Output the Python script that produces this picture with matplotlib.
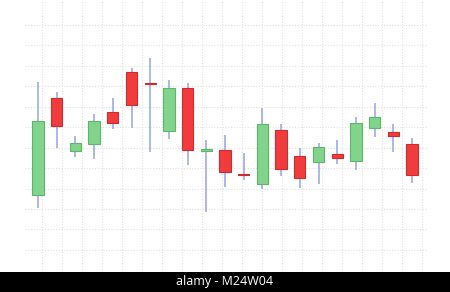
import numpy as np
import matplotlib
matplotlib.use('Agg')
import matplotlib.pyplot as plt
from matplotlib.patches import Rectangle

# OHLC values (21 candles)
opens  = [63.4, 87.2, 74.2, 75.9, 83.7, 93.5, 90.7, 79.1, 89.6, 74.3, 74.5,
          68.5, 66.1, 79.3, 73.0, 71.5, 73.5, 71.8, 79.8, 78.9, 75.9]
highs  = [91.1, 88.6, 77.9, 83.3, 87.2, 94.5, 96.9, 91.6, 90.8, 76.9, 78.1,
          73.7, 84.7, 80.8, 74.9, 76.2, 76.9, 82.5, 85.9, 80.8, 77.4]
lows   = [60.3, 74.9, 72.7, 72.2, 79.6, 79.8, 74.0, 77.1, 70.8, 59.3, 65.4,
          67.1, 64.9, 68.1, 65.2, 66.1, 71.0, 69.6, 77.6, 74.0, 66.4]
closes = [81.5, 80.3, 76.2, 81.5, 81.1, 85.5, 90.5, 89.6, 74.5, 74.6, 69.1,
          68.2, 80.8, 69.8, 67.6, 75.2, 72.5, 81.1, 82.5, 77.9, 68.3]
grid_levels = [50, 55, 60, 65, 70, 75, 80, 85, 90, 95, 100, 105]

up_face, up_edge = '#82d48c', '#5cb868'
dn_face, dn_edge = '#f03c3c', '#d02a2a'
wick_color = '#97a3e6'

fig = plt.figure(figsize=(4.5, 2.92), dpi=100)
band = 20 / 292
ax = fig.add_axes([0, band, 1, 1 - band])
ax.set_axis_off()

x = np.arange(len(opens))
ax.set_xlim(-38 / 18.7, (450 - 38) / 18.7)
ax.set_ylim(44.6, 111.1)

# dotted background grid
for lvl in grid_levels:
    ax.axhline(lvl, xmin=25 / 450, xmax=427 / 450, color='#e2e2e2',
               lw=0.8, ls=(0, (1, 1.5)), zorder=0)
vx = [(42 + 20 * k) / 450 for k in range(20)]
ax.vlines(vx, 0, 1, transform=ax.transAxes, color='#e2e2e2',
          lw=0.8, ls=(0, (1, 1.5)), zorder=0)

o = np.array(opens)
c = np.array(closes)
up = c >= o
ax.vlines(x, lows, highs, color=wick_color, lw=1.1, zorder=1)
heights = np.maximum(np.abs(c - o), 0.25)
bottoms = np.minimum(o, c)
ax.bar(x[up], heights[up], bottom=bottoms[up], width=0.6,
       color=up_face, edgecolor=up_edge, lw=0.8, zorder=2)
ax.bar(x[~up], heights[~up], bottom=bottoms[~up], width=0.6,
       color=dn_face, edgecolor=dn_edge, lw=0.8, zorder=2)

fig.add_artist(Rectangle((0, 0), 1, band, transform=fig.transFigure,
                         facecolor='black', edgecolor='none', zorder=5))
fig.text(0.5, band / 2, 'alamy - M24W04', color='white', fontsize=9,
         family=['Open Sans', 'DejaVu Sans'], ha='center', va='center',
         zorder=6)

fig.savefig('out.png', dpi=100)
